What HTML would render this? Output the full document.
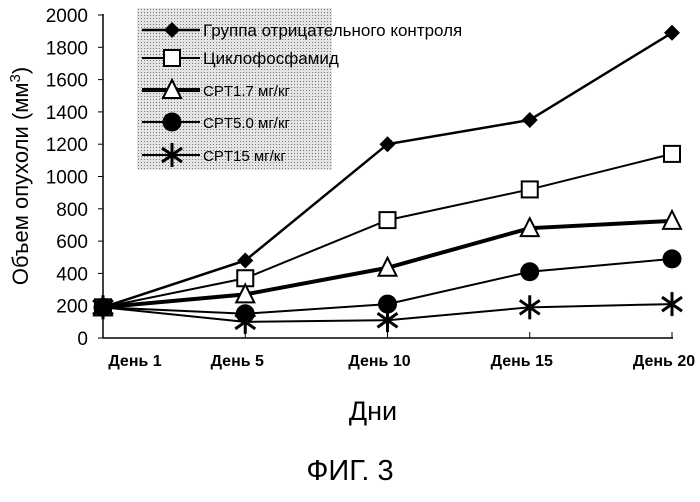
<!DOCTYPE html>
<html><head><meta charset="utf-8"><style>
body{margin:0;background:#fff}
svg text{font-family:"Liberation Sans",sans-serif}
</style></head><body>
<svg id="c" width="700" height="497" xmlns="http://www.w3.org/2000/svg">
<defs><pattern id="dots" width="3" height="3" patternUnits="userSpaceOnUse"><rect width="3" height="3" fill="#e4e4e4"/><rect width="1" height="1" fill="#777"/></pattern></defs>
<g id="axes"></g><g id="series"></g><g id="legend"></g>
<text x="28" y="176" font-size="22" text-anchor="middle" transform="rotate(-90 28 176)">Объем опухоли (мм<tspan dy="-8" font-size="15">3</tspan><tspan dy="8">)</tspan></text>
<text x="373" y="420" font-size="27" text-anchor="middle">Дни</text>
<text x="350" y="480" font-size="29" text-anchor="middle">ФИГ. 3</text>
</svg>
<script>
const categories=["День 1","День 5","День 10","День 15","День 20"];
const yTicks=[0,200,400,600,800,1000,1200,1400,1600,1800,2000];
const seriesNames=["Группа отрицательного контроля","Циклофосфамид","CPT1.7 мг/кг","CPT5.0 мг/кг","CPT15 мг/кг"];
const negControl=[190,480,1200,1350,1890];
const cyclo=[190,370,730,920,1140];
const cpt17=[190,270,435,680,725];
const cpt50=[190,150,210,410,490];
const cpt15=[190,100,110,190,210];
const NS="http://www.w3.org/2000/svg";
const xPos=[103,244,387,529,672];
function x(i){return xPos[0]+(xPos[4]-xPos[0])*i/(categories.length-1);}
function y(v){return 338-v*(338-15)/2000;}
function mk(tag,attrs,parent){const e=document.createElementNS(NS,tag);for(const k in attrs)e.setAttribute(k,attrs[k]);parent.appendChild(e);return e;}
const axes=document.getElementById('axes');
let a=mk('line',{x1:103,y1:14,x2:103,y2:338,stroke:'#000','stroke-width':1.5},axes);


a=mk('line',{x1:103,y1:338,x2:673,y2:338,stroke:'#000','stroke-width':1.5},axes);


yTicks.forEach(v=>{
 mk('line',{x1:98,y1:y(v),x2:103,y2:y(v),stroke:'#000'},axes);
 const t=mk('text',{x:88,y:y(v)+7,'font-size':19,'text-anchor':'end','font-family':'Liberation Serif'},axes);
 t.textContent=v;
 
 
});
categories.forEach((c,i)=>{
 mk('line',{x1:x(i),y1:332,x2:x(i),y2:338,stroke:'#000'},axes);
 const t=mk('text',{x:i==0?135:x(i)-8,y:366,'font-size':16,'font-weight':'bold','text-anchor':'middle'},axes);
 t.textContent=c;
 
 
});
function marker(g,type,cx,cy){
 if(type==0)mk('polygon',{points:`${cx},${cy-8} ${cx+8},${cy} ${cx},${cy+8} ${cx-8},${cy}`,fill:'#000'},g);
 else if(type==1)mk('rect',{x:cx-8,y:cy-8,width:16,height:16,fill:'#fff',stroke:'#000','stroke-width':2},g);
 else if(type==2)mk('polygon',{points:`${cx},${cy-10} ${cx+9},${cy+8} ${cx-9},${cy+8}`,fill:'#fff',stroke:'#000','stroke-width':2},g);
 else if(type==3)mk('circle',{cx:cx,cy:cy,r:9.5,fill:'#000'},g);
 else{for(const[dx,dy] of [[0,12],[10,7],[10,-7]])mk('line',{x1:cx-dx,y1:cy-dy,x2:cx+dx,y2:cy+dy,stroke:'#000','stroke-width':3},g);}
}
const all=[negControl,cyclo,cpt17,cpt50,cpt15];
const widths=[2.5,2,4,2,2];
const sg=document.getElementById('series');
all.forEach((d,s)=>{
 const g=mk('g',{},sg);
 
 
 mk('polyline',{points:d.map((v,i)=>x(i)+','+y(v)).join(' '),fill:'none',stroke:'#000','stroke-width':widths[s]},g);
 d.forEach((v,i)=>marker(g,s,x(i),y(v)));
});
const lg=document.getElementById('legend');


mk('rect',{x:137,y:8,width:195,height:162,fill:'url(#dots)'},lg);
const ly=[30,58,90,122,155];
seriesNames.forEach((n,s)=>{
 const g=mk('g',{},lg);
 
 
 mk('line',{x1:142,y1:ly[s],x2:200,y2:ly[s],stroke:'#000','stroke-width':widths[s]},g);
 marker(g,s,172,ly[s]);
 const t=mk('text',{x:203,y:ly[s]+6,'font-size':s<2?17:15},g);
 t.textContent=n;
});
</script>
</body></html>
